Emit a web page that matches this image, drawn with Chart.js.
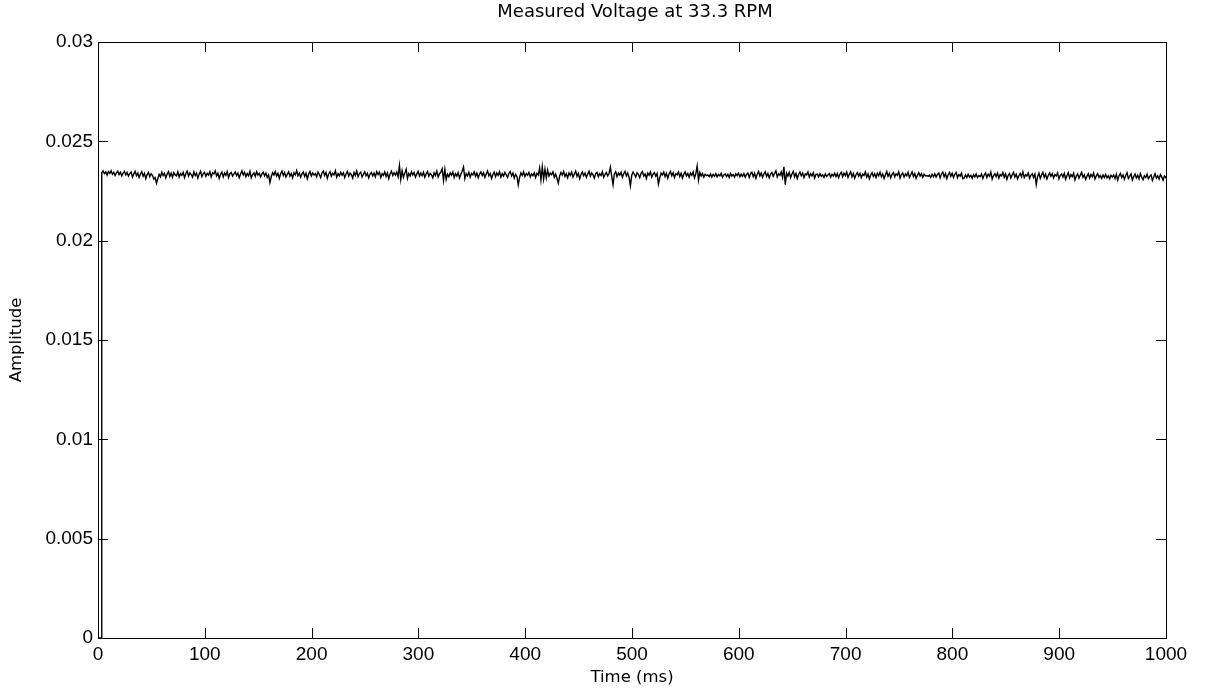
<!DOCTYPE html>
<html>
<head>
<meta charset="utf-8">
<title>Measured Voltage at 33.3 RPM</title>
<script src="https://cdn.jsdelivr.net/npm/chart.js@4.4.1/dist/chart.umd.min.js"></script>
<style>
  html, body { margin: 0; padding: 0; background: #fff; }
  #wrap { width: 1210px; height: 696px; }
</style>
</head>
<body>
<div id="wrap"><canvas id="chart" width="1210" height="696"></canvas></div>
<script>
(() => {
  'use strict';

  // signal sits at zero for the first few ms, then the sampled trace begins
  const leadTimes = [0, 3.4];
  const leadValues = [0, 0];
  const sampleStart = 3.5;
  const sampleStep = 1.25;

  // amplitude, one row per 25 ms
  const amplitude = [
    .02342,.02351,.02337,.02346,.02330,.02348,.02339,.02352,.02334,.02344,.02328,.02341,.02350,.02333,.02345,.02326,.02340,.02349,.02331,.02343,
    .02325,.02338,.02346,.02320,.02336,.02349,.02327,.02341,.02318,.02335,.02347,.02324,.02339,.02312,.02333,.02344,.02322,.02337,.02329,.02310,
    .02318,.02289,.02312,.02334,.02321,.02345,.02328,.02339,.02316,.02336,.02348,.02323,.02340,.02319,.02343,.02331,.02326,.02347,.02320,.02338,
    .02329,.02344,.02317,.02338,.02350,.02325,.02341,.02333,.02319,.02346,.02328,.02340,.02315,.02335,.02349,.02322,.02337,.02344,.02324,.02339,
    .02330,.02347,.02321,.02342,.02336,.02351,.02326,.02339,.02313,.02334,.02345,.02320,.02341,.02329,.02348,.02318,.02337,.02343,.02325,.02336,
    .02346,.02328,.02340,.02317,.02335,.02352,.02331,.02344,.02322,.02338,.02327,.02349,.02316,.02333,.02341,.02324,.02347,.02330,.02339,.02321,
    .02336,.02345,.02326,.02340,.02318,.02331,.02292,.02323,.02342,.02330,.02348,.02325,.02339,.02314,.02337,.02350,.02328,.02343,.02320,.02334,
    .02347,.02325,.02338,.02316,.02342,.02331,.02353,.02327,.02340,.02319,.02336,.02345,.02323,.02339,.02311,.02334,.02348,.02326,.02341,.02330,
    .02338,.02321,.02345,.02333,.02317,.02340,.02350,.02328,.02343,.02314,.02336,.02347,.02324,.02339,.02331,.02352,.02319,.02337,.02326,.02344,
    .02329,.02341,.02318,.02336,.02349,.02325,.02340,.02332,.02315,.02343,.02328,.02351,.02322,.02338,.02345,.02320,.02334,.02347,.02327,.02339,
    .02316,.02335,.02344,.02326,.02340,.02321,.02348,.02333,.02345,.02318,.02337,.02329,.02346,.02323,.02341,.02312,.02336,.02350,.02328,.02342,
    .02330,.02345,.02322,.02378,.02308,.02352,.02319,.02340,.02359,.02314,.02338,.02326,.02347,.02331,.02343,.02320,.02336,.02349,.02325,.02341,
    .02327,.02344,.02319,.02336,.02348,.02324,.02339,.02331,.02316,.02342,.02328,.02350,.02321,.02337,.02345,.02362,.02303,.02360,.02308,.02335,
    .02322,.02341,.02330,.02346,.02318,.02337,.02325,.02343,.02315,.02334,.02349,.02370,.02312,.02338,.02326,.02344,.02320,.02339,.02331,.02347,
    .02324,.02340,.02317,.02335,.02346,.02328,.02342,.02319,.02336,.02351,.02326,.02338,.02313,.02333,.02345,.02322,.02341,.02329,.02347,.02320,
    .02337,.02325,.02343,.02331,.02318,.02339,.02348,.02326,.02340,.02315,.02334,.02323,.02280,.02318,.02341,.02328,.02347,.02322,.02338,.02330,
    .02344,.02321,.02336,.02327,.02342,.02318,.02339,.02330,.02366,.02305,.02372,.02310,.02360,.02316,.02355,.02325,.02340,.02332,.02346,.02319,
    .02335,.02314,.02290,.02326,.02343,.02330,.02348,.02323,.02337,.02316,.02341,.02329,.02345,.02320,.02336,.02350,.02324,.02339,.02312,.02333,
    .02346,.02327,.02340,.02318,.02335,.02349,.02325,.02341,.02331,.02315,.02338,.02344,.02322,.02337,.02328,.02347,.02319,.02334,.02343,.02326,
    .02338,.02370,.02325,.02282,.02336,.02347,.02322,.02340,.02330,.02344,.02319,.02337,.02349,.02326,.02341,.02318,.02276,.02329,.02345,.02333,
    .02321,.02342,.02334,.02317,.02339,.02348,.02325,.02336,.02313,.02340,.02329,.02346,.02320,.02335,.02343,.02324,.02338,.02285,.02316,.02341,
    .02330,.02345,.02322,.02339,.02314,.02336,.02349,.02327,.02342,.02318,.02337,.02331,.02346,.02323,.02340,.02315,.02334,.02347,.02326,.02338,
    .02319,.02341,.02329,.02346,.02316,.02337,.02376,.02305,.02343,.02325,.02338,.02320,.02334,.02327,.02331,.02322,.02336,.02320,.02334,.02324,
    .02337,.02321,.02333,.02326,.02339,.02319,.02331,.02336,.02323,.02334,.02318,.02338,.02325,.02332,.02320,.02337,.02327,.02340,.02322,.02335,
    .02324,.02338,.02319,.02333,.02340,.02318,.02337,.02345,.02322,.02339,.02314,.02334,.02348,.02326,.02341,.02319,.02336,.02347,.02323,.02338,
    .02316,.02335,.02343,.02324,.02339,.02352,.02321,.02337,.02329,.02346,.02318,.02372,.02282,.02340,.02325,.02344,.02317,.02336,.02349,.02322,
    .02338,.02313,.02333,.02346,.02327,.02340,.02318,.02336,.02331,.02345,.02320,.02337,.02326,.02342,.02315,.02334,.02335,.02321,.02337,.02324,
    .02332,.02318,.02336,.02323,.02331,.02338,.02320,.02334,.02325,.02339,.02322,.02338,.02317,.02335,.02344,.02322,.02340,.02328,.02345,.02319,
    .02334,.02347,.02321,.02338,.02314,.02332,.02343,.02325,.02339,.02317,.02335,.02328,.02346,.02320,.02336,.02311,.02331,.02342,.02323,.02337,
    .02318,.02340,.02327,.02345,.02322,.02336,.02313,.02331,.02348,.02324,.02339,.02316,.02334,.02343,.02321,.02337,.02329,.02346,.02315,.02333,
    .02341,.02320,.02336,.02327,.02344,.02318,.02332,.02347,.02323,.02338,.02314,.02330,.02342,.02325,.02337,.02319,.02335,.02326,.02328,.02324,
    .02330,.02318,.02335,.02322,.02337,.02320,.02333,.02340,.02316,.02335,.02345,.02321,.02338,.02312,.02331,.02343,.02324,.02339,.02318,.02334,
    .02344,.02317,.02333,.02325,.02340,.02312,.02315,.02331,.02318,.02334,.02320,.02329,.02314,.02332,.02321,.02336,.02317,.02328,.02322,.02336,
    .02313,.02330,.02341,.02318,.02335,.02324,.02345,.02310,.02328,.02337,.02322,.02340,.02315,.02333,.02326,.02343,.02319,.02336,.02308,.02329,
    .02338,.02316,.02331,.02344,.02320,.02334,.02311,.02327,.02339,.02322,.02346,.02317,.02332,.02325,.02341,.02314,.02330,.02337,.02318,.02335,
    .02283,.02322,.02340,.02313,.02331,.02344,.02319,.02335,.02310,.02328,.02341,.02324,.02337,.02316,.02333,.02326,.02342,.02311,.02329,.02336,
    .02320,.02338,.02309,.02327,.02342,.02316,.02333,.02322,.02339,.02306,.02325,.02336,.02314,.02330,.02344,.02319,.02331,.02308,.02324,.02337,
    .02315,.02333,.02321,.02340,.02310,.02326,.02337,.02318,.02328,.02313,.02331,.02318,.02334,.02316,.02327,.02311,.02329,.02320,.02330,.02312,
    .02334,.02305,.02326,.02339,.02317,.02331,.02309,.02328,.02342,.02313,.02324,.02336,.02306,.02322,.02335,.02316,.02329,.02311,.02338,.02320,
    .02307,.02327,.02318,.02335,.02312,.02324,.02331,.02303,.02320,.02337,.02315,.02326,.02310,.02333,.02321,.02304,.02325,.02318,.02330,.02314
  ];

  const xTicks = [0, 100, 200, 300, 400, 500, 600, 700, 800, 900, 1000];
  const yTicks = [0, 0.005, 0.01, 0.015, 0.02, 0.025, 0.03];
  const yTickLabels = ['0', '0.005', '0.01', '0.015', '0.02', '0.025', '0.03'];

  const TICK_FONT = "'Liberation Sans', Arial, Helvetica, sans-serif";
  const LABEL_FONT = "'DejaVu Sans', 'Liberation Sans', Arial, sans-serif";
  const TICK_LEN = 10;

  const points = leadTimes.map((t, i) => ({ x: t, y: leadValues[i] }))
    .concat(amplitude.map((v, i) => ({ x: sampleStart + i * sampleStep, y: v })));

  // matlab style box with inward ticks on all four sides
  const boxTicks = {
    id: 'boxTicks',
    afterLayout(chart) {
      // title sits over the axes, not over the whole canvas
      const tb = chart.titleBlock;
      if (tb) { tb.left = chart.chartArea.left + 6; tb.right = chart.chartArea.right; }
    },
    afterDraw(chart) {
      const { ctx, chartArea: a, scales } = chart;
      ctx.save();
      ctx.strokeStyle = '#000';
      ctx.lineWidth = 1;
      ctx.beginPath();
      scales.x.ticks.forEach(t => {
        const px = Math.round(scales.x.getPixelForValue(t.value)) + 0.5;
        ctx.moveTo(px, a.bottom); ctx.lineTo(px, a.bottom - TICK_LEN);
        ctx.moveTo(px, a.top); ctx.lineTo(px, a.top + TICK_LEN);
      });
      scales.y.ticks.forEach(t => {
        const py = Math.round(scales.y.getPixelForValue(t.value)) + 0.5;
        ctx.moveTo(a.left, py); ctx.lineTo(a.left + TICK_LEN, py);
        ctx.moveTo(a.right, py); ctx.lineTo(a.right - TICK_LEN, py);
      });
      ctx.stroke();
      ctx.strokeRect(Math.round(a.left) + 0.5, Math.round(a.top) + 0.5,
        Math.round(a.right - a.left), Math.round(a.bottom - a.top));
      ctx.restore();
    }
  };

  new Chart(document.getElementById('chart').getContext('2d'), {
    type: 'line',
    data: {
      datasets: [{
        data: points,
        borderColor: '#000',
        borderWidth: 1.4,
        pointRadius: 0,
        tension: 0,
        fill: false
      }]
    },
    options: {
      responsive: false,
      animation: false,
      events: [],
      layout: { padding: { left: 0, right: 44, top: 0, bottom: 0 } },
      plugins: {
        legend: { display: false },
        tooltip: { enabled: false },
        title: {
          display: true,
          text: 'Measured Voltage at 33.3 RPM',
          color: '#000',
          font: { family: LABEL_FONT, size: 18, weight: 'normal' },
          padding: { top: 2, bottom: 18.4 }
        }
      },
      scales: {
        x: {
          type: 'linear',
          min: 0,
          max: 1000,
          afterBuildTicks: s => { s.ticks = xTicks.map(v => ({ value: v })); },
          afterFit: s => { s.height = 58; },
          grid: { display: false, drawTicks: false },
          border: { display: false },
          ticks: {
            color: '#000',
            padding: 5,
            maxRotation: 0,
            font: { family: TICK_FONT, size: 19 },
            callback: v => String(v)
          },
          title: {
            display: true,
            text: 'Time (ms)',
            color: '#000',
            font: { family: LABEL_FONT, size: 16.5 },
            padding: { top: 0, bottom: 8.5 }
          }
        },
        y: {
          type: 'linear',
          min: 0,
          max: 0.03,
          afterBuildTicks: s => { s.ticks = yTicks.map(v => ({ value: v })); },
          afterFit: s => { s.width = 98; },
          grid: { display: false, drawTicks: false },
          border: { display: false },
          ticks: {
            color: '#000',
            padding: 5,
            font: { family: TICK_FONT, size: 19 },
            callback: (v, i) => yTickLabels[i]
          },
          title: {
            display: true,
            text: 'Amplitude',
            color: '#000',
            font: { family: LABEL_FONT, size: 16.5 },
            padding: { top: 7.2, bottom: 0 }
          }
        }
      }
    },
    plugins: [boxTicks]
  });
})();
</script>
</body>
</html>
